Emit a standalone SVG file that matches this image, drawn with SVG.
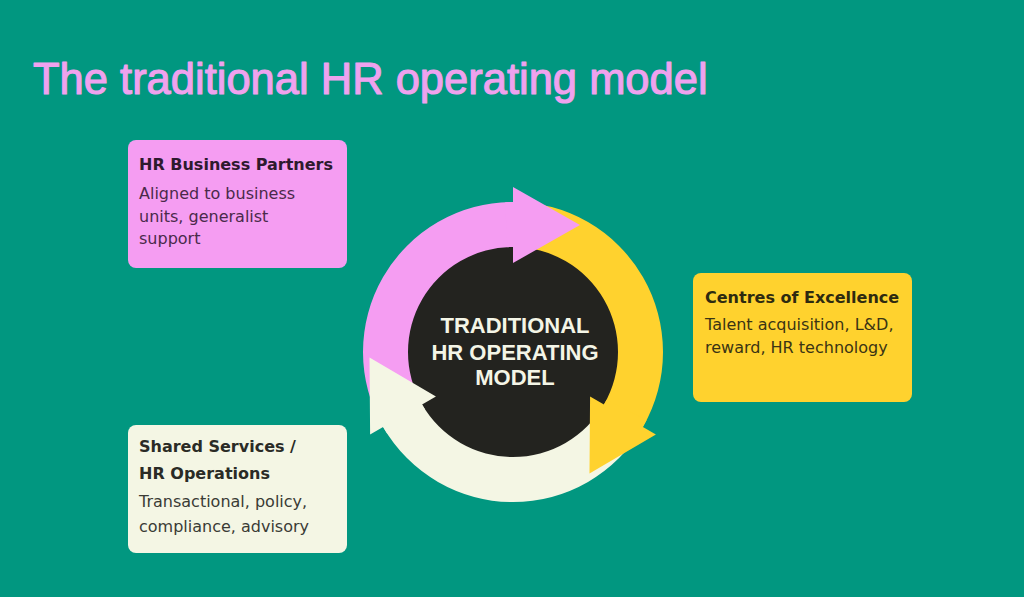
<svg xmlns="http://www.w3.org/2000/svg" xmlns:xlink="http://www.w3.org/1999/xlink" width="1024" height="597" viewBox="0 0 1024 597">
<style>
.title{font-family:"Liberation Sans",Arial,sans-serif;font-size:43.5px;fill:#EFA2EE;stroke:#EFA2EE;stroke-width:1.1;stroke-linejoin:round}
.h{font-family:"DejaVu Sans",sans-serif;font-weight:bold;font-size:16px}
.b{font-family:"DejaVu Sans",sans-serif;font-size:16px}
.center{font-family:"Liberation Sans",Arial,sans-serif;font-weight:bold;font-size:22px;fill:#F4F5E6;text-anchor:middle}
.pink{fill:#F59DF2}
.yellow{fill:#FFD22E}
.cream{fill:#F4F6E4}
</style>
<defs>
<path id="band" d="M -129.904 75 A 150 150 0 0 1 0 -150 L 0 -105 A 105 105 0 0 0 -90.933 52.5 Z"/>
<path id="head" d="M -7.85 -149.79 A 150 150 0 0 1 0 -150 L 0 -165 L 67 -127 L 0 -89 L 0 -105 A 105 105 0 0 0 -5.5 -104.86 Z"/>
</defs>
<rect x="0" y="0" width="1024" height="597" fill="#019780"/>
<text class="title" x="33" y="94">The traditional HR operating model</text>

<g id="cycle">
<circle cx="513" cy="352" r="106" fill="#23231F"/>
<g id="connectors" transform="translate(513 352)">
<use xlink:href="#band" class="pink"/>
<use xlink:href="#band" class="yellow" transform="rotate(120)"/>
<use xlink:href="#band" class="cream" transform="rotate(240)"/>
<use xlink:href="#head" class="pink"/>
<use xlink:href="#head" class="yellow" transform="rotate(120)"/>
<use xlink:href="#head" class="cream" transform="rotate(240)"/>
</g>
<g id="center-label">
<text class="center" x="515" y="333">TRADITIONAL</text>
<text class="center" x="515" y="359.5">HR OPERATING</text>
<text class="center" x="515" y="385">MODEL</text>
</g>
</g>

<g id="hr-business-partners">
<rect x="128" y="140" width="219" height="128" rx="8" class="pink"/>
<text class="h" x="139" y="170" fill="#2E1A2E">HR Business Partners</text>
<text class="b" x="139" y="198.5" fill="#4A2A4A">Aligned to business</text>
<text class="b" x="139" y="221.5" fill="#4A2A4A">units, generalist</text>
<text class="b" x="139" y="244" fill="#4A2A4A">support</text>
</g>

<g id="centres-of-excellence">
<rect x="693" y="273" width="219" height="129" rx="8" class="yellow"/>
<text class="h" x="705" y="302.5" fill="#2E2A10">Centres of Excellence</text>
<text class="b" x="705" y="330" fill="#3A3414">Talent acquisition, L&amp;D,</text>
<text class="b" x="705" y="352.5" fill="#3A3414">reward, HR technology</text>
</g>

<g id="shared-services">
<rect x="128" y="425" width="219" height="128" rx="8" class="cream"/>
<text class="h" x="139" y="452" fill="#2A2B26">Shared Services /</text>
<text class="h" x="139" y="478.5" fill="#2A2B26">HR Operations</text>
<text class="b" x="139" y="506.5" fill="#3A3B35">Transactional, policy,</text>
<text class="b" x="139" y="531.5" fill="#3A3B35">compliance, advisory</text>
</g>
</svg>
